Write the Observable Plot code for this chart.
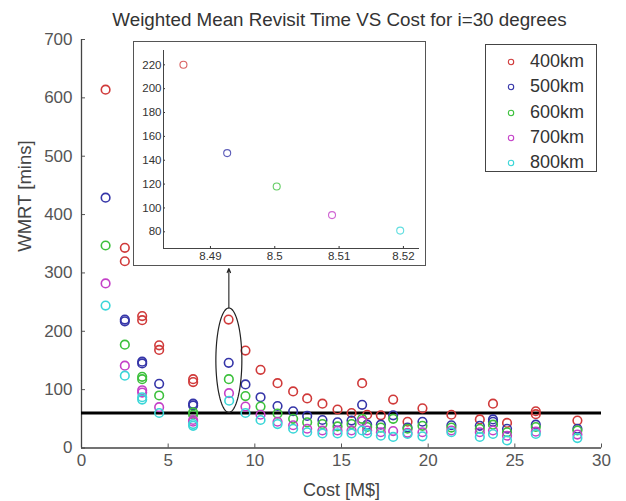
<!DOCTYPE html>
<html><head><meta charset="utf-8">
<script src="https://cdn.jsdelivr.net/npm/d3@7"></script>
<script src="https://cdn.jsdelivr.net/npm/@observablehq/plot@0.6"></script>
<style>
body{margin:0;background:#fff;}
#wrap{position:relative;width:626px;height:501px;font-family:"Liberation Sans",Arial,sans-serif;overflow:hidden;}
#wrap > svg{position:absolute;left:0;top:0;}
#inset{position:absolute;left:133px;top:41px;width:291px;height:223px;border:1.3px solid #555;background:#fff;}
#inset svg{display:block;}
#legend{position:absolute;left:485px;top:44px;width:110px;height:122px;border:1.2px solid #444;background:#fff;padding-top:4px;box-sizing:content-box;}
.row{height:25.3px;line-height:25.3px;position:relative;font-size:18px;color:#333;}
.row svg{position:absolute;left:20px;top:8px;}
.row span{position:absolute;left:44px;}
</style></head><body><div id="wrap"></div><script>
// ---- data ----
const series = ["400km","500km","600km","700km","800km"];
const colors = ["#d03a3a","#3535a8","#3cc03c","#c440c8","#3ad6d8"];

const cost400 = [1.39,2.50,2.50,3.50,3.50,4.48,4.48,6.44,6.44,8.4858,9.46,10.33,11.31,12.21,13.02,13.90,14.77,15.58,16.19,16.48,17.27,17.98,18.81,19.67,21.34,22.98,23.74,24.55,26.21,26.21,28.61];
const wmrt400 = [614,343,320,226,219,176,168,118,113,220,167,134,111,97,85,76,66,60,111,57,56,83,45,68,57,49,76,43,63,58,47];

const cost500 = [1.39,2.50,2.50,3.50,3.50,4.48,6.44,6.44,8.4926,9.46,10.33,11.31,12.21,13.02,13.90,14.77,15.58,16.19,16.48,17.27,17.98,18.81,19.67,21.34,22.98,23.74,23.74,24.55,26.21,28.61];
const wmrt500 = [429,220,217,148,145,110,76,73,146,109,87,72,63,55,48,44,47,74,40,40,56,35,45,39,38,49,45,33,40,33];

const cost600 = [1.39,2.50,3.50,3.50,4.48,6.44,6.44,8.5003,9.46,10.33,11.31,12.21,13.02,13.90,14.77,15.58,16.19,16.48,17.27,17.98,18.81,19.67,21.34,22.98,23.74,24.55,26.21,28.61];
const wmrt600 = [347,177,122,118,90,61,57,118,89,71,59,50,44,41,37,41,50,36,35,50,33,38,35,33,40,27,36,30];

const cost700 = [1.39,2.50,3.50,3.50,4.48,6.44,6.44,8.5089,9.46,10.33,11.31,12.21,13.02,13.90,14.77,15.58,16.19,16.48,17.27,17.98,18.81,19.67,21.34,22.98,23.74,24.55,26.21,28.61];
const wmrt700 = [282,141,99,95,70,48,45,94,71,57,45,39,33,30,30,30,46,30,27,29,26,27,30,27,30,21,28,23];

const cost800 = [1.39,2.50,3.50,3.50,4.48,6.44,6.44,8.5195,9.46,10.33,11.31,12.21,13.02,13.90,14.77,15.58,16.19,16.48,17.27,17.98,18.81,19.67,21.34,22.98,23.74,24.55,26.21,28.61];
const wmrt800 = [244,124,87,83,60,41,38,81,60,48,41,33,27,25,25,25,30,25,21,19,24,20,27,19,24,13,24,17];

const xTicks = [0,5,10,15,20,25,30];
const yTicks = [0,100,200,300,400,500,600,700];
const insetXTicks = [8.49,8.5,8.51,8.52];
const insetYTicks = [80,100,120,140,160,180,200,220];
const threshold = 60;
const title = "Weighted Mean Revisit Time VS Cost for i=30 degrees";
const xLabel = "Cost [M$]";
const yLabel = "WMRT [mins]";
const zoomWindow = [8.48, 8.53];

// ---- build table ----
const costs = [cost400,cost500,cost600,cost700,cost800];
const wmrts = [wmrt400,wmrt500,wmrt600,wmrt700,wmrt800];
const data = [];
series.forEach((s,i)=>costs[i].forEach((c,j)=>data.push({series:s,cost:c,wmrt:wmrts[i][j]})));

// ---- layout ----
const W = 626, H = 501, mL = 81, mR = 25, mT = 39, mB = 53.5;
const insetTop = 41, insetH = 226;
const yPix = d3.scaleLinear([0,700],[H-mB,mT]);

// ellipse around zoomed cluster
const cluster = data.filter(d=>d.cost>=zoomWindow[0]&&d.cost<=zoomWindow[1]);
const cx = d3.mean(cluster,d=>d.cost);
const ylo = d3.min(cluster,d=>d.wmrt), yhi = d3.max(cluster,d=>d.wmrt);
const cy = (ylo+yhi)/2, ry = (yhi-ylo)/2+20, rx = 0.75;
const ellipse = d3.range(0,361,4).map(a=>({x:cx+rx*Math.cos(a*Math.PI/180), y:cy+ry*Math.sin(a*Math.PI/180)}));
const arrowEnd = yPix.invert(insetTop+insetH+1);

const font = '"Liberation Sans", Arial, sans-serif';

const main = Plot.plot({
  width:W, height:H, marginLeft:mL, marginRight:mR, marginTop:mT, marginBottom:mB,
  x:{domain:[0,30]}, y:{domain:[0,700]},
  color:{domain:series, range:colors},
  style:{fontFamily:font, fontSize:"17px", color:"#555", background:"transparent", overflow:"visible"},
  marks:[
    Plot.axisX({ticks:xTicks, tickSize:-4, tickPadding:10, label:null, tickFormat:d=>String(d)}),
    Plot.axisY({ticks:yTicks, tickSize:-4, tickPadding:13, label:null, tickFormat:d=>String(d)}),
    Plot.ruleY([0],{stroke:"#444", strokeWidth:1.3}),
    Plot.ruleX([0],{stroke:"#444", strokeWidth:1.3}),
    Plot.ruleY([threshold],{stroke:"#000", strokeWidth:3}),
    Plot.dot(data,{x:"cost", y:"wmrt", stroke:"series", r:4.3, strokeWidth:1.6}),
    Plot.line(ellipse,{x:"x", y:"y", stroke:"#222", strokeWidth:1.2}),
    Plot.arrow([{x:cx, y1:cy+ry, y2:arrowEnd}],{x:"x", y1:"y1", y2:"y2", stroke:"#222", strokeWidth:1.1, headLength:6, headAngle:45}),
    Plot.text([title],{frameAnchor:"top", dy:-20, dx:-2, fontSize:18.8, fill:"#333", lineAnchor:"middle"}),
    Plot.text([xLabel],{frameAnchor:"bottom", dy:42, fontSize:18, fill:"#444", lineAnchor:"middle"}),
    Plot.text([yLabel],{frameAnchor:"left", dx:-56, dy:8, rotate:-90, fontSize:18.5, fill:"#444", lineAnchor:"middle"})
  ]
});
const wrap = document.getElementById("wrap");
wrap.appendChild(main);

// ---- inset ----
const insetDiv = document.createElement("div");
insetDiv.id = "inset";
wrap.appendChild(insetDiv);
const inset = Plot.plot({
  width:291, height:223, marginLeft:29, marginRight:6, marginTop:8, marginBottom:17,
  x:{domain:[8.4827,8.5225]}, y:{domain:[66,232]},
  color:{domain:series, range:colors},
  style:{fontFamily:font, fontSize:"11.5px", color:"#333", background:"transparent"},
  marks:[
    Plot.axisX({ticks:insetXTicks, tickSize:-2, tickPadding:5, label:null, tickFormat:d=>String(+d.toFixed(2))}),
    Plot.axisY({ticks:insetYTicks, tickSize:-2, tickPadding:4, label:null, tickFormat:d=>String(d)}),
    Plot.ruleX([8.4827],{stroke:"#444", strokeWidth:1}),
    Plot.ruleY([66],{stroke:"#444", strokeWidth:1}),
    Plot.dot(cluster,{x:"cost", y:"wmrt", stroke:"series", r:3.5, strokeWidth:1.1, strokeOpacity:0.8})
  ]
});
insetDiv.appendChild(inset);

// ---- legend ----
const legend = document.createElement("div");
legend.id = "legend";
series.forEach((s,i)=>{
  const row = document.createElement("div");
  row.className = "row";
  row.innerHTML = `<svg width="10" height="10"><circle cx="5" cy="5" r="2.7" fill="none" stroke="${colors[i]}" stroke-width="1.1"/></svg><span>${s}</span>`;
  legend.appendChild(row);
});
wrap.appendChild(legend);
</script></body></html>
